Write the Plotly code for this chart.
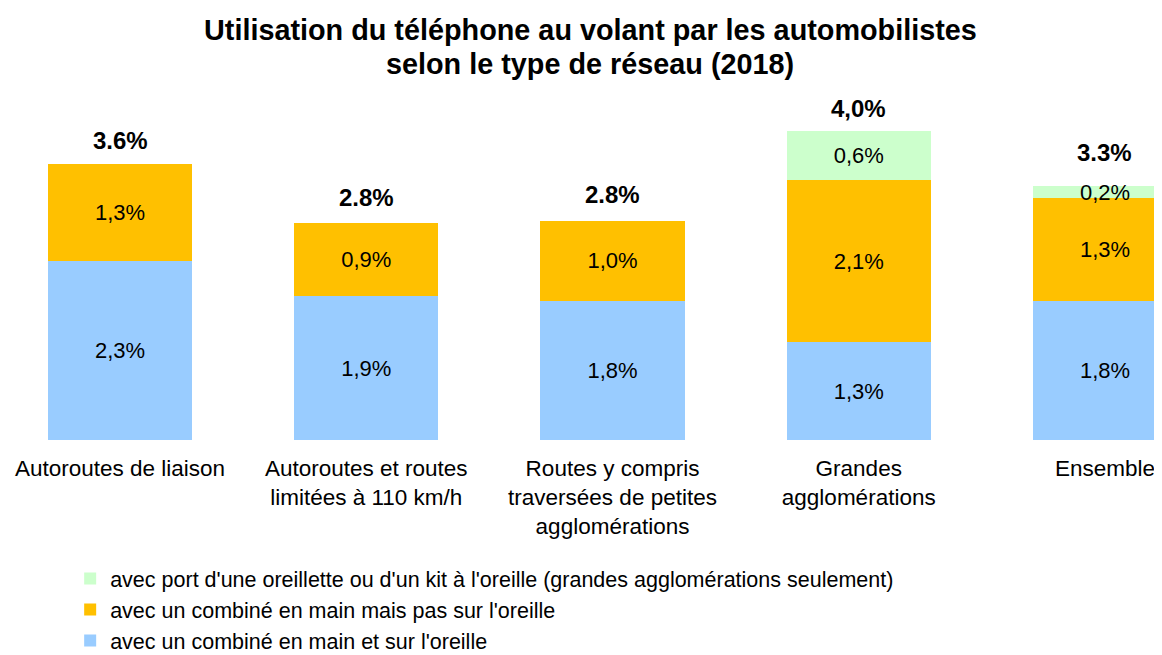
import plotly.graph_objects as go

categories = ["Autoroutes de liaison", "Autoroutes et routes<br>limitées à 110 km/h",
              "Routes y compris<br>traversées de petites<br>agglomérations",
              "Grandes<br>agglomérations", "Ensemble"]
x_pos = [0, 1, 2, 3, 4]

# segment heights (percent)
main_oreille = [2.30, 1.85, 1.79, 1.26, 1.79]
main_pas_oreille = [1.25, 0.94, 1.03, 2.08, 1.32]
oreillette = [0.0, 0.0, 0.0, 0.63, 0.15]

lab_main_oreille = ["2,3%", "1,9%", "1,8%", "1,3%", "1,8%"]
lab_main_pas_oreille = ["1,3%", "0,9%", "1,0%", "2,1%", "1,3%"]
lab_oreillette = ["", "", "", "0,6%", "0,2%"]
total_labels = ["3.6%", "2.8%", "2.8%", "4,0%", "3.3%"]
total_shift = [23, 26, 26, 23, 34]

names = ["avec un combiné en main et sur l'oreille",
         "avec un combiné en main mais pas sur l'oreille",
         "avec port d'une oreillette ou d'un kit à l'oreille (grandes agglomérations seulement)"]
colors = ["#99CCFF", "#FFC000", "#CCFFCC"]

title_lines = ["Utilisation du téléphone au volant par les automobilistes",
               "selon le type de réseau (2018)"]

FONT = "Liberation Sans, Arial, sans-serif"
bw = 0.585

fig = go.Figure()
for vals, labs, name, col in zip([main_oreille, main_pas_oreille, oreillette],
                                 [lab_main_oreille, lab_main_pas_oreille, lab_oreillette],
                                 names, colors):
    fig.add_trace(go.Bar(
        x=x_pos, y=vals, name=name, width=bw,
        marker=dict(color=col, line=dict(width=0)),
        text=labs, textposition="inside", insidetextanchor="middle",
        textangle=0, constraintext="none", cliponaxis=False,
        textfont=dict(family=FONT, size=22, color="#000000"),
        hoverinfo="skip",
    ))

totals = [a + b + c for a, b, c in zip(main_oreille, main_pas_oreille, oreillette)]
for xi, t, lab, sh in zip(x_pos, totals, total_labels, total_shift):
    fig.add_annotation(x=xi, y=t, text="<b>" + lab + "</b>", showarrow=False,
                       yshift=sh, font=dict(family=FONT, size=24, color="#000000"))

for line, yy in zip(title_lines, [1.1714, 1.0743]):
    fig.add_annotation(xref="paper", yref="paper", x=0.5009, y=yy,
                       xanchor="center", yanchor="middle", showarrow=False,
                       text="<b>" + line + "</b>",
                       font=dict(family=FONT, size=28.8, color="#000000"))

fig.update_layout(
    width=1162, height=655,
    barmode="stack",
    paper_bgcolor="white", plot_bgcolor="white",
    margin=dict(l=0, r=0, t=82, b=223, autoexpand=False),
    font=dict(family=FONT, size=20, color="#000000"),
    xaxis=dict(tickmode="array", tickvals=x_pos, ticktext=categories,
               range=[-0.455, 4.264], showgrid=False, showline=False, zeroline=False,
               ticks="", ticklabelstandoff=12, tickangle=0, automargin=False,
               tickfont=dict(family=FONT, size=22.5, color="#000000")),
    yaxis=dict(range=[0, 4.5], visible=False, automargin=False),
    legend=dict(x=0.0535, y=-0.3372,
                xanchor="left", yanchor="top", orientation="v",
                traceorder="reversed", itemwidth=30, tracegroupgap=0,
                font=dict(family=FONT, size=21.5, color="#000000"),
                bgcolor="rgba(0,0,0,0)"),
    showlegend=True,
)

fig.write_html("out.html")
